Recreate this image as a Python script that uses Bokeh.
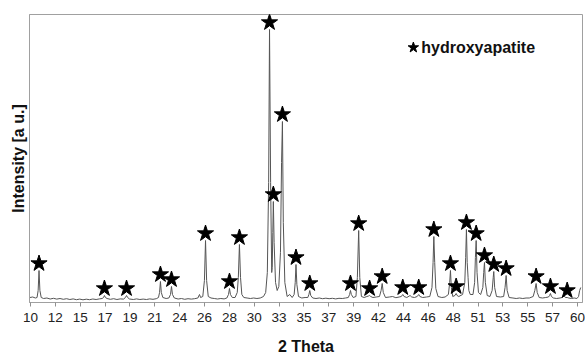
from bokeh.plotting import figure
from bokeh.models import FixedTicker, Range1d, Label, ColumnDataSource
from bokeh.embed import file_html
from bokeh.resources import INLINE

# ---- data ----
two_theta = [
    9.95, 10.2, 10.45, 10.6, 10.7, 10.78, 10.86, 10.98, 11.2, 11.5, 11.8, 12.1, 12.4, 12.7,
    13.0, 13.3, 13.6, 13.9, 14.2, 14.5, 14.8, 15.1, 15.4, 15.7, 16.0, 16.3, 16.55, 16.68,
    16.76, 16.85, 17.0, 17.3, 17.6, 17.9, 18.2, 18.5, 18.68, 18.78, 18.88, 19.05, 19.4,
    19.7, 20.0, 20.3, 20.6, 20.9, 21.2, 21.5, 21.7, 21.8, 21.88, 21.96, 22.1, 22.4, 22.65,
    22.8, 22.89, 22.98, 23.15, 23.5, 23.8, 24.1, 24.4, 24.7, 25.0, 25.3, 25.45, 25.55,
    25.75, 25.9, 26.0, 26.1, 26.25, 26.5, 26.8, 27.1, 27.4, 27.7, 27.95, 28.1, 28.19,
    28.28, 28.45, 28.7, 28.9, 29.0, 29.1, 29.2, 29.32, 29.5, 29.8, 30.1, 30.4, 30.7, 31.0,
    31.3, 31.5, 31.65, 31.77, 31.85, 31.95, 32.05, 32.1, 32.15, 32.2, 32.27, 32.4, 32.55,
    32.7, 32.85, 32.95, 33.03, 33.11, 33.25, 33.46, 33.7, 33.92, 34.1, 34.2, 34.27, 34.35,
    34.5, 34.8, 35.1, 35.35, 35.45, 35.53, 35.62, 35.8, 36.1, 36.4, 36.7, 37.0, 37.3, 37.6,
    37.9, 38.2, 38.5, 38.8, 39.05, 39.17, 39.25, 39.33, 39.5, 39.75, 39.88, 40.0, 40.1,
    40.25, 40.5, 40.75, 40.9, 41.0, 41.1, 41.3, 41.6, 41.9, 42.05, 42.15, 42.25, 42.45,
    42.8, 43.1, 43.4, 43.7, 43.9, 44.03, 44.15, 44.4, 44.7, 44.85, 45.1, 45.35, 45.49,
    45.6, 45.85, 46.2, 46.5, 46.7, 46.8, 46.87, 46.95, 47.05, 47.25, 47.6, 47.9, 48.2,
    48.32, 48.39, 48.47, 48.6, 48.8, 48.91, 49.0, 49.15, 49.5, 49.7, 49.78, 49.85, 49.92,
    50.0, 50.07, 50.2, 50.45, 50.6, 50.67, 50.74, 50.82, 50.95, 51.15, 51.35, 51.43, 51.5,
    51.58, 51.75, 52.0, 52.2, 52.3, 52.35, 52.43, 52.6, 52.95, 53.25, 53.38, 53.48, 53.57,
    53.75, 54.1, 54.4, 54.7, 55.0, 55.3, 55.6, 55.95, 56.1, 56.22, 56.32, 56.5, 56.8, 57.1,
    57.35, 57.45, 57.53, 57.62, 57.8, 58.1, 58.4, 58.6, 58.75, 58.9, 59.06, 59.2, 59.45,
    59.7, 59.95, 60.1, 60.2, 60.3,
]
intensity = [
    5, 5.5, 4.5, 5, 12, 32, 12, 5, 4, 4.5, 3.5, 4.2, 3.4, 4,
    3.2, 3.8, 3, 3.6, 2.8, 3.4, 2.7, 3.3, 2.8, 3.5, 3, 3.6, 4, 5,
    7, 5, 4, 3.2, 3.8, 3, 3.6, 3.4, 5, 7, 5, 3.5, 3,
    3.6, 3, 3.4, 3, 3.6, 3.2, 3.8, 5, 10, 21, 10, 5, 4, 4.5,
    8, 16, 8, 4.5, 3.5, 4, 3.2, 3.8, 3.4, 3.8, 4.5, 8, 5,
    6, 22, 62, 22, 6, 4.5, 4, 3.5, 4, 3.6, 4.5, 8, 14,
    8, 5, 5, 10, 25, 58, 25, 8, 5, 4.5, 4, 4.5, 4, 4.5,
    6, 10, 30, 120, 273, 120, 30, 35, 70, 101, 60, 20, 12,
    16, 50, 140, 181, 80, 20, 6, 8, 5, 8, 20, 38, 18,
    6, 4.5, 5, 5, 8, 12, 7, 4.5, 4, 4.5, 3.8, 4.3, 3.8, 4.2,
    3.6, 4.2, 4, 4.5, 5, 8, 12, 8, 5, 6, 25, 72, 25,
    6, 5, 6, 6.5, 7, 6, 5, 5.5, 6, 12, 19, 10, 5,
    5.5, 6, 4.8, 5.5, 6, 8, 6, 5, 7, 5.5, 5, 6, 8,
    6, 5, 5.5, 6, 15, 40, 66, 40, 14, 6, 5, 5.5, 8,
    20, 32, 15, 6, 7, 9, 7, 6, 8, 20, 45, 73, 40,
    25, 12, 8, 8, 20, 45, 62, 30, 10, 8, 15, 30, 40,
    20, 7, 6, 12, 25, 31, 15, 6, 5.5, 6, 15, 27, 12,
    5, 4.5, 4, 4.5, 4, 4.5, 4.5, 6, 12, 19, 10, 5, 4.5, 5,
    5.5, 7, 9, 6, 4.5, 4, 4.5, 5, 7, 5, 5, 4.5, 4,
    4.5, 4, 6, 12, 15,
]

# hydroxyapatite peaks marked with stars
peak_theta = [10.78, 16.76, 18.78, 21.88, 22.89, 26.0, 28.19, 29.1, 31.85, 32.2,
              33.03, 34.27, 35.53, 39.25, 40.0, 41.0, 42.15, 44.03, 45.49, 46.87,
              48.39, 48.91, 49.85, 50.74, 51.5, 52.35, 53.48, 56.22, 57.53, 59.06]
peak_height = [32, 7, 7, 21, 16, 62, 14, 58, 273, 101,
               181, 38, 12, 12, 72, 7, 19, 8, 8, 66,
               32, 9, 73, 62, 40, 31, 27, 19, 9, 5]

tick_labels = ["10", "12", "15", "17", "19", "21", "24", "26", "28", "30", "33", "35",
               "37", "39", "42", "44", "46", "48", "51", "53", "55", "57", "60"]

FONT = "Liberation Sans"

p = figure(width=585, height=358, output_backend="svg", toolbar_location=None,
           x_range=Range1d(9.91, 60.46), y_range=Range1d(0, 288),
           min_border_left=29, min_border_right=3, min_border_top=14, min_border_bottom=56)
p.background_fill_color = "white"
p.border_fill_color = "white"
p.outline_line_color = "#a0a0a0"
p.grid.visible = False

p.line(two_theta, intensity, line_color="#555555", line_width=1)

star_src = ColumnDataSource(dict(x=peak_theta, y=[h + 7 for h in peak_height]))
p.scatter("x", "y", source=star_src, marker="star", size=17,
          fill_color="black", line_color="black")

# x axis
n = len(tick_labels)
ticks = [10 + i * 50 / (n - 1) for i in range(n)]
xa = p.xaxis[0]
xa.ticker = FixedTicker(ticks=ticks)
xa.major_label_overrides = {t: lab for t, lab in zip(ticks, tick_labels)}
xa.minor_tick_line_color = None
xa.major_tick_in = 0
xa.major_tick_out = 4
xa.major_tick_line_color = "#909090"
xa.axis_line_color = "#a0a0a0"
xa.major_label_text_font = FONT
xa.major_label_text_font_size = "13.5px"
xa.major_label_text_color = "#222222"
xa.major_label_standoff = 6
xa.axis_label = "2 Theta"
xa.axis_label_text_font = FONT
xa.axis_label_text_font_size = "16px"
xa.axis_label_text_font_style = "bold"
xa.axis_label_text_color = "#111111"
xa.axis_label_standoff = 13

# y axis (title only)
ya = p.yaxis[0]
ya.ticker = FixedTicker(ticks=[])
ya.major_tick_out = 0
ya.major_tick_in = 0
ya.minor_tick_line_color = None
ya.major_label_text_font_size = "0px"
ya.axis_line_color = "#a0a0a0"
ya.axis_label = "Intensity [a u.]"
ya.axis_label_text_font = FONT
ya.axis_label_text_font_size = "16px"
ya.axis_label_text_font_style = "bold"
ya.axis_label_text_color = "#111111"
ya.axis_label_standoff = 3

# legend-like annotation
p.scatter([45.0], [255], marker="star", size=11, fill_color="black", line_color="black")
p.add_layout(Label(x=45.72, y=255, text="hydroxyapatite", text_font=FONT,
                   text_font_size="16px", text_font_style="bold", text_color="#111111",
                   text_baseline="middle", text_align="left"))

open("out.html", "w").write(file_html(p, INLINE))
